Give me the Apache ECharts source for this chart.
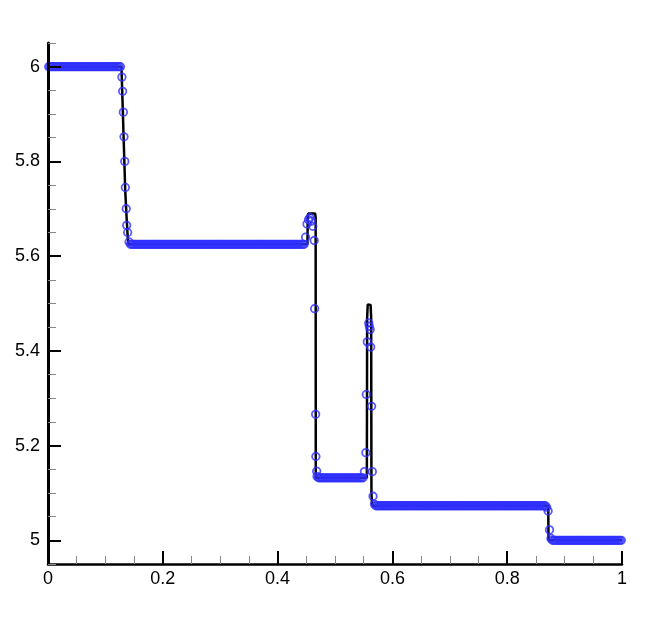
<!DOCTYPE html>
<html>
<head>
<meta charset="utf-8">
<script src="https://cdn.jsdelivr.net/npm/echarts@6/dist/echarts.min.js"></script>
<style>
html, body { margin: 0; padding: 0; background: #fff; }
#chart { width: 648px; height: 640px; }
</style>
</head>
<body>
<div id="chart"></div>
<script>
// reference (black line) solution
const refX = [0, 0.128, 0.1286, 0.1300, 0.1320, 0.1345, 0.1370, 0.1390, 0.1405,
    0.452, 0.4525, 0.4535, 0.4655, 0.4663, 0.4665,
    0.5555, 0.556, 0.557, 0.5595, 0.562, 0.563, 0.5635, 0.5645, 0.566,
    0.8715, 0.872, 1];
const refY = [6, 6, 5.975, 5.92, 5.84, 5.74, 5.68, 5.638, 5.625,
    5.625, 5.685, 5.69, 5.69, 5.68, 5.132,
    5.132, 5.47, 5.498, 5.502, 5.497, 5.47, 5.1, 5.078, 5.073,
    5.073, 5.0, 5.0];

// numerical solution (blue circles) on 400 cell centres
const numY = [
    6, 6, 6, 6, 6, 6, 6, 6, 6, 6,
    6, 6, 6, 6, 6, 6, 6, 6, 6, 6,
    6, 6, 6, 6, 6, 6, 6, 6, 6, 6,
    6, 6, 6, 6, 6, 6, 6, 6, 6, 6,
    6, 6, 6, 6, 6, 6, 6, 6, 6, 6,
    6,
    5.978, 5.904, 5.8, 5.7, 5.65, 5.63,
    5.625, 5.625, 5.625, 5.625, 5.625, 5.625, 5.625, 5.625, 5.625, 5.625,
    5.625, 5.625, 5.625, 5.625, 5.625, 5.625, 5.625, 5.625, 5.625, 5.625,
    5.625, 5.625, 5.625, 5.625, 5.625, 5.625, 5.625, 5.625, 5.625, 5.625,
    5.625, 5.625, 5.625, 5.625, 5.625, 5.625, 5.625, 5.625, 5.625, 5.625,
    5.625, 5.625, 5.625, 5.625, 5.625, 5.625, 5.625, 5.625, 5.625, 5.625,
    5.625, 5.625, 5.625, 5.625, 5.625, 5.625, 5.625, 5.625, 5.625, 5.625,
    5.625, 5.625, 5.625, 5.625, 5.625, 5.625, 5.625, 5.625, 5.625, 5.625,
    5.625, 5.625, 5.625, 5.625, 5.625, 5.625, 5.625, 5.625, 5.625, 5.625,
    5.625, 5.625, 5.625, 5.625, 5.625, 5.625, 5.625, 5.625, 5.625, 5.625,
    5.625, 5.625, 5.625, 5.625, 5.625, 5.625, 5.625, 5.625, 5.625, 5.625,
    5.625, 5.625, 5.625, 5.625, 5.625, 5.625, 5.625, 5.625, 5.625, 5.625,
    5.625, 5.625, 5.625, 5.625, 5.625, 5.625, 5.625, 5.625, 5.625, 5.625,
    5.625, 5.625,
    5.64, 5.668, 5.677, 5.681, 5.674, 5.663, 5.633, 5.266, 5.135,
    5.132, 5.132, 5.132, 5.132, 5.132, 5.132, 5.132, 5.132, 5.132, 5.132,
    5.132, 5.132, 5.132, 5.132, 5.132, 5.132, 5.132, 5.132, 5.132, 5.132,
    5.132, 5.132, 5.132, 5.132, 5.132, 5.132, 5.132, 5.132, 5.132, 5.132,
    5.132, 5.132,
    5.145, 5.185, 5.419, 5.459, 5.445, 5.283, 5.093, 5.076,
    5.073, 5.073, 5.073, 5.073, 5.073, 5.073, 5.073, 5.073, 5.073, 5.073,
    5.073, 5.073, 5.073, 5.073, 5.073, 5.073, 5.073, 5.073, 5.073, 5.073,
    5.073, 5.073, 5.073, 5.073, 5.073, 5.073, 5.073, 5.073, 5.073, 5.073,
    5.073, 5.073, 5.073, 5.073, 5.073, 5.073, 5.073, 5.073, 5.073, 5.073,
    5.073, 5.073, 5.073, 5.073, 5.073, 5.073, 5.073, 5.073, 5.073, 5.073,
    5.073, 5.073, 5.073, 5.073, 5.073, 5.073, 5.073, 5.073, 5.073, 5.073,
    5.073, 5.073, 5.073, 5.073, 5.073, 5.073, 5.073, 5.073, 5.073, 5.073,
    5.073, 5.073, 5.073, 5.073, 5.073, 5.073, 5.073, 5.073, 5.073, 5.073,
    5.073, 5.073, 5.073, 5.073, 5.073, 5.073, 5.073, 5.073, 5.073, 5.073,
    5.073, 5.073, 5.073, 5.073, 5.073, 5.073, 5.073, 5.073, 5.073, 5.073,
    5.073, 5.073, 5.073, 5.073, 5.073, 5.073, 5.073, 5.073, 5.073, 5.073,
    5.073, 5.073, 5.073, 5.073, 5.073, 5.073, 5.073, 5.073, 5.073,
    5.07, 5.062, 5.022, 5.004,
    5, 5, 5, 5, 5, 5, 5, 5, 5, 5,
    5, 5, 5, 5, 5, 5, 5, 5, 5, 5,
    5, 5, 5, 5, 5, 5, 5, 5, 5, 5,
    5, 5, 5, 5, 5, 5, 5, 5, 5, 5,
    5, 5, 5, 5, 5, 5, 5, 5, 5
];

// extra circles inside the jumps
const extraX = [0.1300, 0.1324, 0.1348, 0.1371, 0.4645, 0.4667, 0.4681, 0.5545, 0.5598, 0.5622, 0.5650];
const extraY = [5.948, 5.852, 5.745, 5.665, 5.489, 5.177, 5.146, 5.308, 5.452, 5.408, 5.145];

// axis ticks
const yMajorTicks = [5, 5.2, 5.4, 5.6, 5.8, 6];
const yMinorTicks = [4.95, 5.05, 5.1, 5.15, 5.25, 5.3, 5.35, 5.45, 5.5, 5.55,
    5.65, 5.7, 5.75, 5.85, 5.9, 5.95, 6.05];

const FONT = "'Liberation Sans', Arial, sans-serif";
const BLUE = '#3030ff';

const refData = refX.map((x, i) => [x, refY[i]]);
const numData = numY.map((y, i) => [(i + 0.5) / numY.length, y]);
extraX.forEach((x, i) => numData.push([x, extraY[i]]));

const chart = echarts.init(document.getElementById('chart'));
chart.setOption({
    animation: false,
    backgroundColor: '#fff',
    grid: { left: 48, right: 26, top: 43, bottom: 76 },
    xAxis: {
        type: 'value',
        min: 0, max: 1, interval: 0.2,
        z: 5,
        axisLine: { lineStyle: { color: '#000', width: 2.5 } },
        axisTick: { inside: true, length: 13, lineStyle: { color: '#000', width: 2 } },
        minorTick: { show: true, splitNumber: 4, length: 8, lineStyle: { color: '#888', width: 1 } },
        axisLabel: { color: '#000', fontSize: 18, fontFamily: FONT, margin: 6 },
        splitLine: { show: false }
    },
    yAxis: [{
        type: 'value',
        min: 4.95, max: 6.05,
        position: 'left',
        z: 5,
        axisLine: { lineStyle: { color: '#000', width: 3 } },
        axisTick: { inside: true, length: 13, customValues: yMajorTicks, lineStyle: { color: '#000', width: 2 } },
        axisLabel: { color: '#000', fontSize: 18, fontFamily: FONT, margin: 8, customValues: yMajorTicks },
        splitLine: { show: false }
    }, {
        // minor ticks only
        type: 'value',
        min: 4.95, max: 6.05,
        position: 'left',
        offset: 0,
        z: 5,
        axisLine: { show: false },
        axisTick: { inside: true, length: 8, customValues: yMinorTicks, lineStyle: { color: '#888', width: 1 } },
        axisLabel: { show: false },
        splitLine: { show: false }
    }],
    series: [{
        type: 'line',
        data: refData,
        showSymbol: false,
        z: 2,
        lineStyle: { color: '#000', width: 2.5 },
        silent: true
    }, {
        type: 'scatter',
        data: numData,
        symbol: 'circle',
        symbolSize: 7.5,
        z: 3,
        itemStyle: { color: 'rgba(0,0,0,0)', borderColor: BLUE, borderWidth: 1.8 },
        silent: true
    }]
});
</script>
</body>
</html>
